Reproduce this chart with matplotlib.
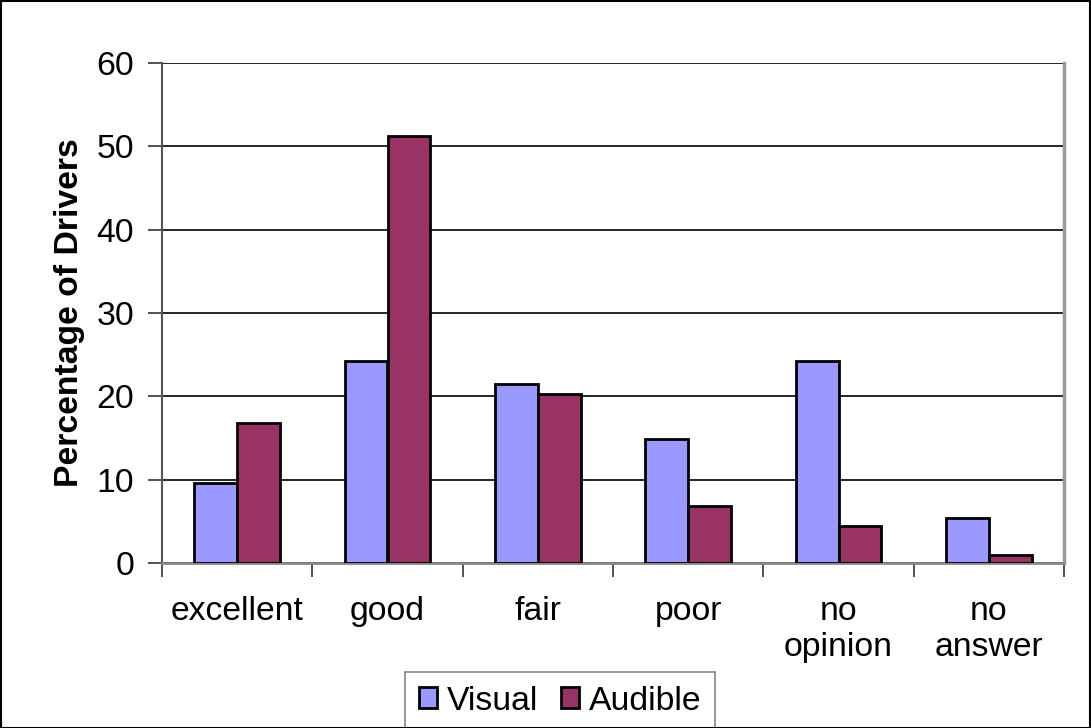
import matplotlib
matplotlib.use("Agg")
import matplotlib.pyplot as plt
import numpy as np

categories = ["excellent", "good", "fair", "poor", "no\nopinion", "no\nanswer"]
visual = [9.6, 24.2, 21.5, 14.9, 24.2, 5.4]
audible = [16.8, 51.3, 20.3, 6.85, 4.4, 1.0]
yticks = [0, 10, 20, 30, 40, 50, 60]

plt.rcParams['font.family'] = ['Liberation Sans', 'DejaVu Sans']
FS = 24.3

fig = plt.figure(figsize=(10.91, 7.28), dpi=100)
fig.patch.set_facecolor('white')
fig.patches.append(matplotlib.patches.Rectangle((0.0005, 0.0005), 0.999, 0.998, transform=fig.transFigure,
                                                fill=False, edgecolor='black', linewidth=1.5, zorder=10))
ax = fig.add_axes([162/1091, 1-563/728, (1064-162)/1091, (563-63)/728])

x = np.arange(len(categories))
w = 1/3.5
ax.bar(x - w/2, visual, width=w, color='#9999FF', edgecolor='black', linewidth=2, label='Visual', zorder=3)
ax.bar(x + w/2, audible, width=w, color='#993366', edgecolor='black', linewidth=2, label='Audible', zorder=3)

ax.set_xlim(-0.5, len(categories) - 0.5)
ax.set_ylim(0, 60)
ax.set_yticks(yticks)
ax.set_yticklabels([str(v) for v in yticks], fontsize=FS)
ax.yaxis.grid(True, color='black', linewidth=1.2, zorder=0)
ax.set_axisbelow(True)

ax.set_xticks(np.arange(len(categories) + 1) - 0.5, minor=False)
ax.set_xticklabels([])
ax.set_xticks(x, minor=True)
ax.set_xticklabels(categories, minor=True, fontsize=FS, linespacing=1.2)
ax.tick_params(axis='x', which='minor', length=0, pad=24)
ax.tick_params(axis='x', which='major', length=10, width=1.2, direction='out', color='#333333')
ax.tick_params(axis='y', length=10, width=1.2, direction='out', color='#333333', pad=10)

ax.spines['top'].set_visible(False)
ax.spines['left'].set_color('#555555')
ax.spines['left'].set_linewidth(1.5)
ax.spines['bottom'].set_color('#888888')
ax.spines['bottom'].set_linewidth(2)
ax.spines['right'].set_color('#999999')
ax.spines['right'].set_linewidth(2.5)

ax.set_ylabel('Percentage of Drivers', fontsize=FS, fontweight='bold', labelpad=8)

leg = fig.legend(loc='upper left', bbox_to_anchor=(405/1091, 1-672/728), ncol=2, fontsize=FS,
                 frameon=True, fancybox=False, edgecolor='#666666', handlelength=0.55, handleheight=0.55,
                 handletextpad=0.3, columnspacing=0.65, borderpad=0.4, borderaxespad=0)
leg.get_frame().set_linewidth(1.2)

fig.savefig('out.png', dpi=100)
